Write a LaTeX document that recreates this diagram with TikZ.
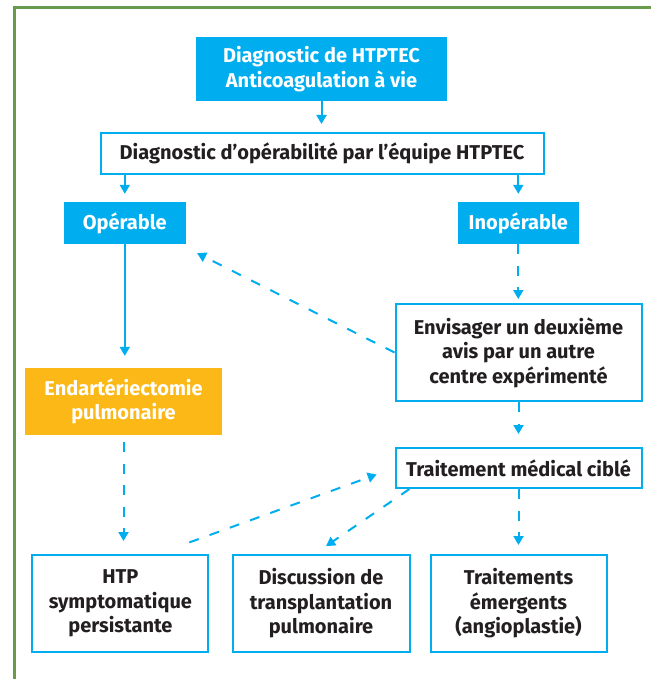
\documentclass[tikz,border=0pt]{standalone}
\usepackage{fontspec}
\setmainfont{Fira Sans}
\usetikzlibrary{arrows.meta,calc}

\definecolor{hcyan}{HTML}{00AEEF}
\definecolor{horange}{HTML}{FBB816}
\definecolor{hgreen}{HTML}{6A9A4C}
\definecolor{ink}{HTML}{231F20}

\tikzset{
  boxbase/.style={inner sep=0pt, align=center,
    font=\bfseries\fontsize{20}{24.5}\selectfont},
  outlinebox/.style={boxbase, draw=hcyan, line width=2pt, fill=white, text=ink},
  cyanbox/.style={boxbase, fill=hcyan, text=white},
  orangebox/.style={boxbase, fill=horange, text=white},
  link/.style={draw=hcyan, line width=2pt,
    -{Triangle[length=9pt,width=10pt]}},
  dlink/.style={link, dash pattern=on 10pt off 11.5pt},
  frameline/.style={draw=hgreen, line width=3pt}
}

\begin{document}
\begin{tikzpicture}[x=1pt,y=-1pt]
\useasboundingbox (0,0) rectangle (651,679);

% outer frame (open to the right and bottom)
\draw[frameline] (14.5,679) -- (14.5,7.5) -- (651,7.5);

% boxes
\node[cyanbox, minimum width=251, minimum height=64] (diag) at (321.5,69)
  {Diagnostic de HTPTEC\\Anticoagulation à vie};
\node[outlinebox, minimum width=443, minimum height=41] (team) at (322,153.5)
  {Diagnostic d’opérabilité par l’équipe HTPTEC};
\node[cyanbox, minimum width=121.5, minimum height=42] (op) at (124.8,223)
  {Opérable};
\node[cyanbox, minimum width=121, minimum height=42] (inop) at (518.3,223)
  {Inopérable};
\node[orangebox, minimum width=197, minimum height=67] (epa) at (123.5,401.5)
  {Endartériectomie\\pulmonaire};
\node[outlinebox, minimum width=246, minimum height=97] (avis) at (518.5,352.5)
  {Envisager un deuxième\\avis par un autre\\centre expérimenté};
\node[outlinebox, minimum width=246, minimum height=40] (tmc) at (518.5,468)
  {Traitement médical ciblé};
\node[outlinebox, minimum width=176, minimum height=97] (htp) at (120.4,603.5)
  {HTP\\symptomatique\\persistante};
\node[outlinebox, minimum width=177, minimum height=97] (disc) at (321,603.5)
  {Discussion de\\transplantation\\pulmonaire};
\node[outlinebox, minimum width=176, minimum height=97] (emerg) at (518.5,603.5)
  {Traitements\\émergents\\(angioplastie)};

% solid connectors
\draw[link, shorten >=8pt] (diag.south) -- (diag.south |- team.north);
\draw[link, shorten >=8pt] (team.south -| op) -- (op.north);
\draw[link, shorten >=8pt] (team.south -| inop) -- (inop.north);
\draw[link, shorten >=12pt] (op.south) -- (op.south |- epa.north);

% dashed connectors
\draw[dlink, shorten >=4pt] (inop.south) -- (inop.south |- avis.north);
\draw[dlink, shorten >=13pt] (avis.south) -- (tmc.north);
\draw[dlink, shorten <=7pt, shorten >=13pt] (epa.south) -- (epa.south |- htp.north);
\draw[dlink, shorten >=9pt] (tmc.south) -- (emerg.north);
\draw[dlink, shorten >=20pt] (avis.west) -- ($(op.south east)+(-6.5,0)$);
\draw[dlink, shorten <=34pt, shorten >=19pt]
  ($(htp.north)+(37,0)$) -- (tmc.west);
\draw[dlink, shorten >=14pt]
  ($(tmc.south west)+(15,0)$) -- ($(disc.north)+(-6.5,0)$);
\end{tikzpicture}
\end{document}
